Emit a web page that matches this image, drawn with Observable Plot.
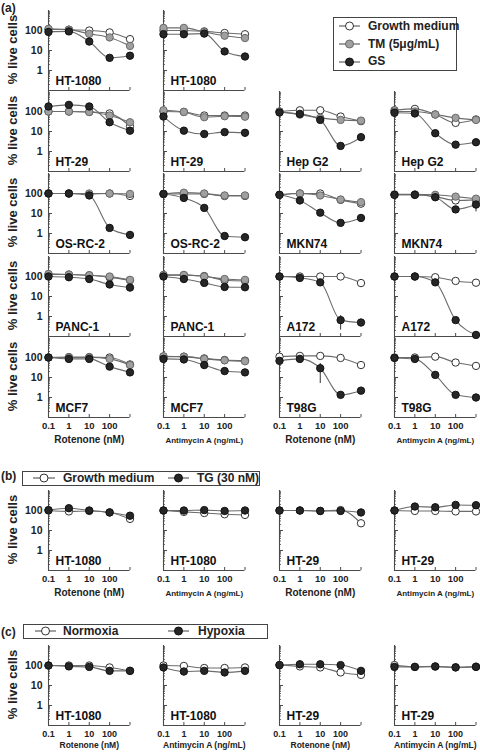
<!DOCTYPE html>
<html><head><meta charset="utf-8">
<script src="https://cdn.jsdelivr.net/npm/d3@7"></script>
<script src="https://cdn.jsdelivr.net/npm/@observablehq/plot@0.6"></script>
<style>
html,body{margin:0;padding:0;background:#fff;}
#root{position:relative;width:480px;height:752px;overflow:hidden;font-family:"Liberation Sans",Arial,sans-serif;color:#222;}
.lg{position:absolute;border:1px solid #444;box-sizing:border-box;background:#fff;}
.t{position:absolute;font-weight:bold;white-space:nowrap;}
</style></head><body><div id="root"></div>
<script>
// ---------- data ----------
const doses = [0.1, 1, 10, 100, 1000];
const xTickValues = [0.1, 1, 10, 100];
const xTickLabels = ["0.1", "1", "10", "100"];
const yTickValues = [1, 10, 100];
const yTickLabels = ["1", "10", "100"];
const drugLabels = ["Rotenone (nM)", "Antimycin A (ng/mL)"];
const yLabel = "% live cells";

// (a) panels, in reading order
const aCells = ["HT-1080","HT-1080","HT-29","HT-29","Hep G2","Hep G2","OS-RC-2","OS-RC-2","MKN74","MKN74","PANC-1","PANC-1","A172","A172","MCF7","MCF7","T98G","T98G"];
const aSeriesNames = ["Growth medium", "TM (5\u03bcg/mL)", "GS"];
const aGrowth = [
  [115,110,100,80,37],
  [100,100,90,75,65],
  [100,100,95,80,18],
  [100,95,63,63,63],
  [100,115,115,56,33],
  [115,135,71,27,40],
  [100,100,95,100,75],
  [95,95,95,75,75],
  [86,100,100,48,31],
  [86,86,70,45,48],
  [125,125,115,90,65],
  [115,115,105,65,60],
  [100,100,100,100,47],
  [100,100,92,60,49],
  [100,105,105,100,45],
  [110,110,90,75,70],
  [110,120,120,95,42],
  [100,100,110,56,38]
];
const aTM = [
  [120,110,68,45,17],
  [135,135,85,55,42],
  [100,100,95,63,29],
  [115,95,52,58,55],
  [100,70,48,38,35],
  [100,100,71,48,38],
  [100,100,100,100,95],
  [95,110,100,80,80],
  [86,100,80,50,37],
  [90,90,86,70,55],
  [135,125,115,100,68],
  [120,120,100,75,68],
  null,
  null,
  [100,100,100,85,42],
  [115,110,85,72,65],
  null,
  null
];
const aGS = [
  [85,90,28,4.3,5.5],
  [65,65,70,9,5],
  [178,215,178,29,11],
  [56,11,7.5,9.3,8.6],
  [89,76,38,1.9,5.2],
  [86,80,8.2,2.2,2.9],
  [100,100,80,1.9,0.85],
  [95,60,19,0.75,0.65],
  [86,45,11,3.4,6],
  [86,86,65,16,28],
  [100,92,75,40,28],
  [100,75,48,30,29],
  [100,85,51,0.66,0.5],
  [100,100,51,0.66,0.12],
  [100,85,85,35,18],
  [85,80,42,21,18],
  [68,85,29,1.36,2.2],
  [95,85,13.5,1.36,1.0]
];
// error bars on GS points: panel index, dose, low, high
const aErrPanel = [12, 16, 16, 9, 9, 6, 4];
const aErrDose  = [100, 10, 100, 1000, 1, 100, 1000];
const aErrLow   = [0.21, 5, 0.9, 12, 60, 1.3, 3.8];
const aErrHigh  = [1.1, 50, 1.8, 37, 110, 2.6, 6.5];

// (b)
const bCells = ["HT-1080","HT-1080","HT-29","HT-29"];
const bSeriesNames = ["Growth medium", "TG (30 nM)"];
const bGrowth = [
  [100,90,95,80,38],
  [100,85,75,65,60],
  [100,100,95,105,23],
  [100,95,95,90,90]
];
const bTG = [
  [105,130,100,80,55],
  [100,100,105,95,100],
  [100,100,95,95,80],
  [100,158,145,190,184]
];

// (c)
const cCells = ["HT-1080","HT-1080","HT-29","HT-29"];
const cSeriesNames = ["Normoxia", "Hypoxia"];
const cNormoxia = [
  [100,100,100,80,54],
  [100,95,75,75,80],
  [105,90,80,45,34],
  [105,85,88,82,88]
];
const cHypoxia = [
  [100,90,85,54,54],
  [80,50,54,45,54],
  [105,115,115,105,54],
  [85,85,90,80,85]
];

// ---------- drawing ----------
const FONT = '"Liberation Sans", Arial, Helvetica, sans-serif';
const AX = "#4a4a4a";
const STYLE = {
  open: {fill: "#ffffff", stroke: "#333333"},
  gray: {fill: "#a0a0a0", stroke: "#6a6a6a"},
  dark: {fill: "#262626", stroke: "#111111"}
};
const root = document.getElementById("root");

const minorTicks = [];
[0.1, 1, 10, 100].forEach(d => { for (let k = 2; k <= 9; k++) minorTicks.push(d * k); });

function panel(cfg) {
  const W = 81.5, H = 80;
  const mL = cfg.showY ? 48 : 6, mR = 10, mT = 8, mB = cfg.bottom ? 34 : 6;
  const marks = [
    Plot.ruleX([0.1], {stroke: AX, strokeWidth: 1.1}),
    Plot.ruleY([0.1], {stroke: AX, strokeWidth: 1.1}),
    Plot.tickY(minorTicks, {y: d => d, insetRight: W - 2, stroke: AX, strokeWidth: 0.8}),
    Plot.tickY(yTickValues, {y: d => d, insetRight: W - 4, stroke: AX}),
    Plot.tickX(doses, {x: d => d, insetTop: H - 3, stroke: AX})
  ];
  if (cfg.showY) {
    marks.push(Plot.axisY({ticks: yTickValues, tickSize: 0, tickPadding: 6, label: null,
      tickFormat: d => yTickLabels[yTickValues.indexOf(d)], fontSize: 10.5, fontWeight: "bold", fill: "#222"}));
    marks.push(Plot.text([yLabel], {frameAnchor: "left", rotate: -90, textAnchor: "middle", dx: -36, dy: -1,
      fontSize: 13, fontWeight: "bold", fill: "#222"}));
  }
  if (cfg.bottom) {
    marks.push(Plot.axisX({ticks: xTickValues, tickSize: 0, tickPadding: 5, label: null,
      tickFormat: d => xTickLabels[xTickValues.indexOf(d)], fontSize: cfg.tickFs, fontWeight: "bold", fill: "#222"}));
    marks.push(Plot.text([cfg.drug], {frameAnchor: "bottom", dy: cfg.drugDy, fontSize: cfg.drugFs, fontWeight: "bold", fill: "#222"}));
  }
  // lines
  cfg.series.forEach(s => {
    if (!s.values) return;
    const rows = s.values.map((v, i) => ({dose: doses[i], value: v}));
    marks.push(Plot.line(rows, {x: "dose", y: "value", stroke: "#6c6c6c", strokeWidth: 1.1, curve: "monotone-x"}));
  });
  // error bars
  if (cfg.errs && cfg.errs.length) {
    marks.push(Plot.ruleX(cfg.errs, {x: "dose", y1: "lo", y2: "hi", stroke: "#333", strokeWidth: 1}));
  }
  // dots
  cfg.series.forEach(s => {
    if (!s.values) return;
    const rows = s.values.map((v, i) => ({dose: doses[i], value: v}));
    marks.push(Plot.dot(rows, {x: "dose", y: "value", r: 3.7, fill: STYLE[s.kind].fill, stroke: STYLE[s.kind].stroke, strokeWidth: 1}));
  });
  marks.push(Plot.text([cfg.cell], {frameAnchor: "bottom-left", dx: 7, dy: -6, lineAnchor: "bottom", textAnchor: "start",
    fontSize: 12, fontWeight: "bold", fill: "#111"}));

  const svg = Plot.plot({
    width: mL + W + mR, height: mT + H + mB,
    marginLeft: mL, marginRight: mR, marginTop: mT, marginBottom: mB,
    x: {type: "log", domain: [0.1, 1000], axis: null},
    y: {type: "log", domain: [0.1, 1000], axis: null},
    style: {background: "none", overflow: "visible", fontFamily: FONT, color: "#222"},
    marks
  });
  svg.style.position = "absolute";
  svg.style.left = (cfg.x0 - mL) + "px";
  svg.style.top = (cfg.y100 - 20 - mT) + "px";
  root.appendChild(svg);
}

const colX = [48, 163.3, 279.3, 394.3];
const aRowY = [30.3, 111.2, 193, 275.5, 357];

// (a)
aCells.forEach((cell, i) => {
  let row, col;
  if (i < 2) { row = 0; col = i; } else { row = 1 + Math.floor((i - 2) / 4); col = (i - 2) % 4; }
  const errs = [];
  aErrPanel.forEach((p, k) => { if (p === i) errs.push({dose: aErrDose[k], lo: aErrLow[k], hi: aErrHigh[k]}); });
  panel({
    x0: colX[col], y100: aRowY[row], cell, showY: col === 0, bottom: row === 4,
    drug: drugLabels[col % 2], tickFs: 9.5, drugFs: col % 2 ? 8 : 10, drugDy: 25,
    series: [
      {kind: "open", values: aGrowth[i]},
      {kind: "gray", values: aTM[i]},
      {kind: "dark", values: aGS[i]}
    ],
    errs
  });
});
// (b)
bCells.forEach((cell, i) => {
  panel({
    x0: colX[i], y100: 509.7, cell, showY: i === 0, bottom: true,
    drug: drugLabels[i % 2], tickFs: 9.5, drugFs: i % 2 ? 8 : 10, drugDy: 25,
    series: [{kind: "open", values: bGrowth[i]}, {kind: "dark", values: bTG[i]}]
  });
});
// (c)
cCells.forEach((cell, i) => {
  panel({
    x0: colX[i], y100: 664.7, cell, showY: i === 0, bottom: true,
    drug: drugLabels[i % 2], tickFs: 9, drugFs: 8.5, drugDy: 22,
    series: [{kind: "open", values: cNormoxia[i]}, {kind: "dark", values: cHypoxia[i]}]
  });
});

// ---------- labels & legends ----------
function text(str, x, cy, fs) {
  const d = document.createElement("div");
  d.className = "t";
  d.textContent = str;
  d.style.left = x + "px";
  d.style.top = (cy - fs * 0.6) + "px";
  d.style.fontSize = fs + "px";
  d.style.lineHeight = (fs * 1.2) + "px";
  root.appendChild(d);
}
function symbol(x1, x2, cy, kind) {
  const ns = "http://www.w3.org/2000/svg";
  const s = document.createElementNS(ns, "svg");
  s.setAttribute("width", x2 - x1 + 10);
  s.setAttribute("height", 12);
  s.style.position = "absolute";
  s.style.left = (x1 - 5) + "px";
  s.style.top = (cy - 6) + "px";
  const l = document.createElementNS(ns, "line");
  l.setAttribute("x1", 5); l.setAttribute("x2", x2 - x1 + 5);
  l.setAttribute("y1", 6); l.setAttribute("y2", 6);
  l.setAttribute("stroke", "#555"); l.setAttribute("stroke-width", 1.1);
  const c = document.createElementNS(ns, "circle");
  c.setAttribute("cx", (x2 - x1) / 2 + 5); c.setAttribute("cy", 6); c.setAttribute("r", 4);
  c.setAttribute("fill", STYLE[kind].fill); c.setAttribute("stroke", STYLE[kind].stroke);
  s.appendChild(l); s.appendChild(c);
  root.appendChild(s);
}
function box(x, y, w, h) {
  const d = document.createElement("div");
  d.className = "lg";
  d.style.left = x + "px"; d.style.top = y + "px";
  d.style.width = w + "px"; d.style.height = h + "px";
  root.appendChild(d);
}

text("(a)", 1, 8, 12);
text("(b)", 1, 476.5, 12);
text("(c)", 1, 632.5, 12);

box(333, 17, 124, 54);
const aKinds = ["open", "gray", "dark"];
const aLegY = [26, 44, 61.5];
aSeriesNames.forEach((n, k) => { symbol(339, 360, aLegY[k], aKinds[k]); text(n, 368, aLegY[k], 12); });

box(22, 471, 238, 14.5);
symbol(33, 55, 478, "open"); text(bSeriesNames[0], 63, 478, 12);
symbol(168, 189, 478, "dark"); text(bSeriesNames[1], 197, 478, 12);

box(23, 624, 245, 14.5);
symbol(35, 56, 631.2, "open"); text(cSeriesNames[0], 63, 631.2, 12);
symbol(168, 189, 631.2, "dark"); text(cSeriesNames[1], 198, 631.2, 12);
</script>
</body></html>
